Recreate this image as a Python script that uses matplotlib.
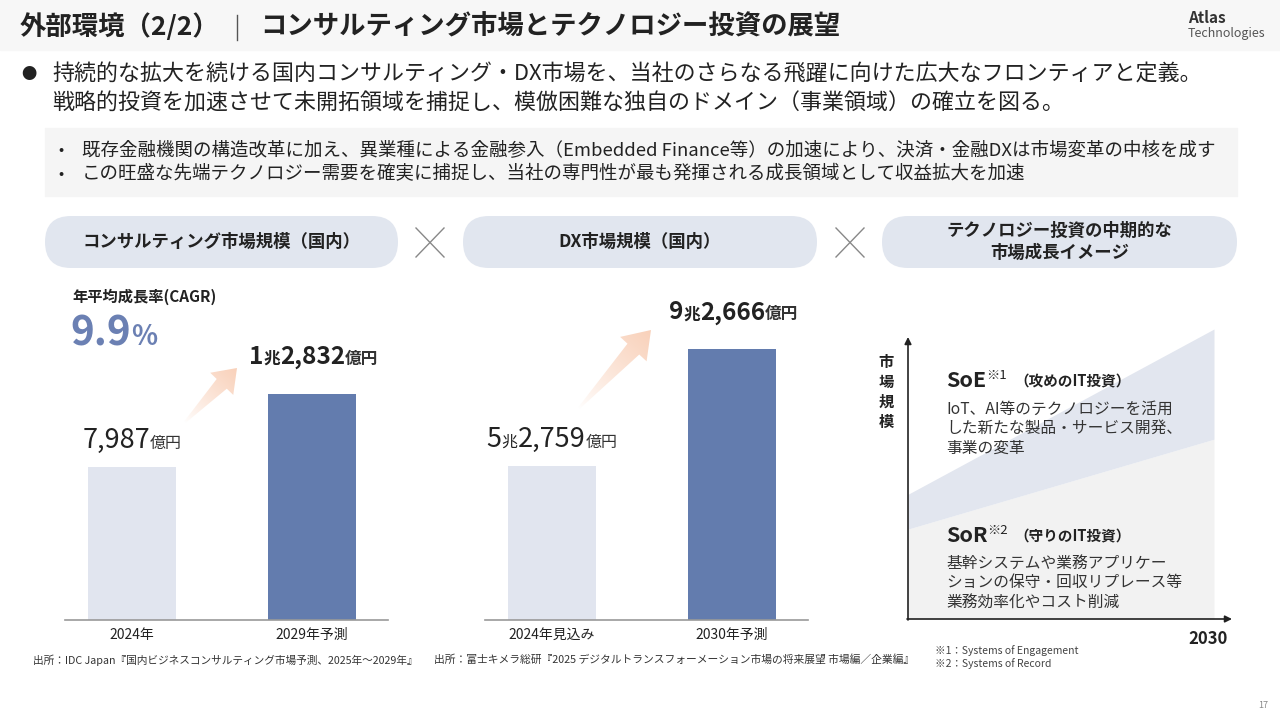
import matplotlib.pyplot as plt
import numpy as np
from matplotlib.patches import FancyBboxPatch, Rectangle, Polygon

plt.rcParams["font.family"] = ["Noto Sans CJK JP", "DejaVu Sans"]

W, H = 1280, 720
DARK = "#222222"
BAR_LIGHT = "#e1e5ef"
BAR_DARK = "#637cae"
ACCENT = "#6b80b3"
PILL = "#e1e6ef"
PEACH = np.array([0.976, 0.82, 0.73])

# ---- data ----
consult_labels = ["2024年", "2029年予測"]
consult_values = [7987, 12832]  # 億円
dx_labels = ["2024年見込み", "2030年予測"]
dx_values = [52759, 92666]  # 億円
cagr = 9.9
trend_x = [0, 1]
sor_edge = [0.31, 0.62]  # upper edge of SoR area (relative)
soe_edge = [0.43, 1.00]  # upper edge of SoE band (relative)

title_left = "外部環境（2/2）"
title_right = "コンサルティング市場とテクノロジー投資の展望"
lead_lines = ["持続的な拡大を続ける国内コンサルティング・DX市場を、当社のさらなる飛躍に向けた広大なフロンティアと定義。",
              "戦略的投資を加速させて未開拓領域を捕捉し、模倣困難な独自のドメイン（事業領域）の確立を図る。"]
sub_points = ["既存金融機関の構造改革に加え、異業種による金融参入（Embedded Finance等）の加速により、決済・金融DXは市場変革の中核を成す",
              "この旺盛な先端テクノロジー需要を確実に捕捉し、当社の専門性が最も発揮される成長領域として収益拡大を加速"]
pill_texts = ["コンサルティング市場規模（国内）", "DX市場規模（国内）", "テクノロジー投資の中期的な\n市場成長イメージ"]
soe_body = ["IoT、AI等のテクノロジーを活用", "した新たな製品・サービス開発、", "事業の変革"]
sor_body = ["基幹システムや業務アプリケー", "ションの保守・回収リプレース等", "業務効率化やコスト削減"]

fig = plt.figure(figsize=(W / 100, H / 100), dpi=100)
bg = fig.add_axes([0, 0, 1, 1])
bg.set_axis_off()
bg.patch.set_visible(False)
bg.set_zorder(5)
R = fig.canvas.get_renderer()


def px_axes(l, t, r, b):
    a = fig.add_axes([l / W, 1 - b / H, (r - l) / W, (b - t) / H])
    a.set_facecolor("none")
    return a


def rich(x, y, parts, ha="left"):
    # parts: (text, size, weight, color[, raise]) baseline aligned
    ts = [bg.text(0, y - (p[4] if len(p) > 4 else 0), p[0], fontsize=p[1], fontweight=p[2],
                  color=p[3], va="baseline", ha="left") for p in parts]
    widths = [t.get_window_extent(R).width for t in ts]
    cx = x - (sum(widths) / 2 if ha == "center" else 0)
    for t, w in zip(ts, widths):
        t.set_x(cx)
        cx += w
    return cx


def oku_parts(v, big, small, weight):
    cho, oku = divmod(v, 10000)
    parts = []
    if cho:
        parts += [(str(cho), big, weight, DARK), ("兆", small, weight, DARK)]
    parts += [(f"{oku:,}", big, weight, DARK), ("億円", small, weight, "#333333")]
    return parts


def grad_arrow(x0, y0, x1, y1, head_len, head_w, shaft_w):
    d = np.array([x1 - x0, y1 - y0], float)
    L = np.hypot(*d)
    u = d / L
    n = np.array([-u[1], u[0]])
    tail, tip = np.array([x0, y0], float), np.array([x1, y1], float)
    base = tip - u * head_len
    pts = np.array([tail + n, base + n * shaft_w / 2, base + n * head_w / 2, tip,
                    base - n * head_w / 2, base - n * shaft_w / 2, tail - n])
    poly = Polygon(pts, closed=True, facecolor="none", edgecolor="none")
    bg.add_patch(poly)
    xmin, ymin = pts.min(axis=0) - 2
    xmax, ymax = pts.max(axis=0) + 2
    gx, gy = np.meshgrid(np.linspace(xmin, xmax, 120), np.linspace(ymin, ymax, 120))
    t = np.clip(((gx - x0) * u[0] + (gy - y0) * u[1]) / L, 0, 1)
    img = np.ones(gx.shape + (4,))
    for k in range(3):
        img[..., k] = 1 - (1 - PEACH[k]) * t ** 0.8
    im = bg.imshow(img, extent=(xmin, xmax, ymax, ymin), origin="upper", interpolation="bilinear")
    im.set_clip_path(poly)


# ---- header ----
bg.add_patch(Rectangle((0, 0), W, 50, color="#f7f7f7", zorder=0))
bg.text(20, 27, title_left, fontsize=19, fontweight="bold", color=DARK, va="center")
bg.plot([237, 237], [15, 40], color="#555555", lw=1)
bg.text(260, 27, title_right, fontsize=19, fontweight="bold", color=DARK, va="center")
bg.text(1188, 18, "Atlas", fontsize=11, fontweight="bold", color="#333333", va="center")
bg.text(1188, 34, "Technologies", fontsize=9, color="#555555", va="center")

bg.text(21, 75, "●", fontsize=11, color=DARK, va="center")
for i, line in enumerate(lead_lines):
    bg.text(52, 75 + 29 * i, line, fontsize=15.8, color=DARK, va="center")

bg.add_patch(Rectangle((45, 128), 1192, 68, color="#f5f5f5", zorder=0))
for i, line in enumerate(sub_points):
    y = 150 + 24 * i
    bg.text(58, y, "•", fontsize=11, color=DARK, va="center")
    bg.text(82, y, line, fontsize=13.3, color=DARK, va="center")

# ---- pills ----
for (l, r), txt in zip([(45, 398), (463, 817), (882, 1237)], pill_texts):
    bg.add_patch(FancyBboxPatch((l, 216), r - l, 52, boxstyle="round,pad=0,rounding_size=26",
                                facecolor=PILL, edgecolor="none"))
    bg.text((l + r) / 2, 242, txt, fontsize=12.5, fontweight="bold", color=DARK,
            ha="center", va="center", linespacing=1.25)
for cx in (430, 850):
    bg.plot([cx - 14, cx + 14], [228, 257], color="#888888", lw=1)
    bg.plot([cx - 14, cx + 14], [257, 228], color="#888888", lw=1)


# ---- bar charts ----
def bar_chart(l, r, labels, values, y0, top):
    ax = px_axes(l, 300, r, 620)
    x = np.arange(len(values))
    ax.bar(x, np.array(values) - y0, bottom=y0, width=0.49, color=[BAR_LIGHT, BAR_DARK])
    ax.set_xlim(-0.373, 1.426)
    ax.set_ylim(y0, top)
    for s in ("top", "left", "right"):
        ax.spines[s].set_visible(False)
    ax.spines["bottom"].set_color("#999999")
    ax.spines["bottom"].set_linewidth(1.2)
    ax.set_yticks([])
    ax.set_xticks(x, labels, fontsize=10, color=DARK)
    ax.tick_params(axis="x", length=0, pad=6)
    tops = []
    for xi, v in zip(x, values):
        dx, dy = ax.transData.transform((xi, v))
        tops.append((dx, H - dy))
    return ax, tops


ax1, tops1 = bar_chart(65, 388, consult_labels, consult_values, -2170, 19080)
ax2, tops2 = bar_chart(485, 808, dx_labels, dx_values, 0, 109600)

for tops, values in ((tops1, consult_values), (tops2, dx_values)):
    (xa, ya), (xb, yb) = tops
    rich(xa, ya - 19, oku_parts(values[0], 19.5, 11.5, "normal"), ha="center")
    rich(xb + 2, yb - 30, oku_parts(values[1], 17.5, 12, "bold"), ha="center")

bg.text(72, 297, "年平均成長率(CAGR)", fontsize=11, fontweight="bold", color=DARK, va="center")
rich(70, 345, [(f"{cagr}", 29, "bold", ACCENT), ("%", 19.5, "bold", ACCENT)])

grad_arrow(185, 422, 237, 368, 22, 32, 14)
grad_arrow(579, 408, 651, 330, 26, 36, 16)

# ---- concept chart ----
ax3 = px_axes(908, 329, 1214, 619)
ax3.fill_between(trend_x, 0, sor_edge, color="#f2f2f2", lw=0)
ax3.fill_between(trend_x, sor_edge, soe_edge, color="#e2e6ef", lw=0)
ax3.set_xlim(0, 1)
ax3.set_ylim(0, 1)
ax3.set_axis_off()

bg.annotate("", xy=(908, 337), xytext=(908, 620),
            arrowprops=dict(arrowstyle="-|>", color=DARK, lw=1.2, mutation_scale=10, shrinkA=0, shrinkB=0))
bg.annotate("", xy=(1232, 619), xytext=(907, 619),
            arrowprops=dict(arrowstyle="-|>", color=DARK, lw=1.2, mutation_scale=10, shrinkA=0, shrinkB=0))
for i, ch in enumerate("市場規模"):
    bg.text(886, 362 + 20 * i, ch, fontsize=11, fontweight="bold", color=DARK, ha="center", va="center")

rich(946, 387, [("SoE", 15.5, "bold", DARK), ("※1", 9.5, "normal", DARK, 8)])
bg.text(1014, 381, "（攻めのIT投資）", fontsize=10.5, fontweight="bold", color=DARK, va="center")
for i, line in enumerate(soe_body):
    bg.text(946, 409 + 19.5 * i, line, fontsize=11.3, color="#333333", va="center")

rich(946, 542, [("SoR", 15.5, "bold", DARK), ("※2", 9.5, "normal", DARK, 8)])
bg.text(1014, 536, "（守りのIT投資）", fontsize=10.5, fontweight="bold", color=DARK, va="center")
for i, line in enumerate(sor_body):
    bg.text(946, 563 + 20 * i, line, fontsize=11.3, color="#333333", va="center")

bg.text(1228, 639, "2030", fontsize=12, fontweight="bold", color=DARK, ha="right", va="center")
bg.text(935, 651, "※1：Systems of Engagement", fontsize=7.5, color="#444444", va="center")
bg.text(935, 664, "※2：Systems of Record", fontsize=7.5, color="#444444", va="center")

# ---- sources ----
bg.text(33, 660, "出所：IDC Japan『国内ビジネスコンサルティング市場予測、2025年～2029年』",
        fontsize=7.7, color="#333333", va="center")
bg.text(434, 660, "出所：富士キメラ総研『2025 デジタルトランスフォーメーション市場の将来展望 市場編／企業編』",
        fontsize=7.75, color="#333333", va="center")
bg.text(1268, 705, "17", fontsize=6.5, color="#888888", ha="right", va="center")

bg.set_xlim(0, W)
bg.set_ylim(H, 0)
bg.set_aspect("auto")
fig.savefig("out.png", dpi=100)
